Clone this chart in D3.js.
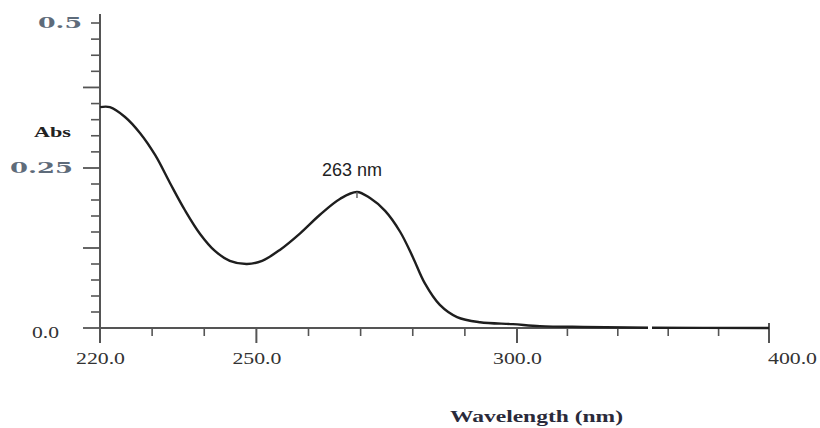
<!DOCTYPE html>
<html>
<head>
<meta charset="utf-8">
<script src="https://cdn.jsdelivr.net/npm/d3@7"></script>
<style>
  body { margin: 0; background: #fff; }
  svg { display: block; }
</style>
</head>
<body>
<svg id="chart" width="820" height="428"></svg>
<script>
// spectrum
const wavelength = [220, 221.9, 224.8, 227.7, 230.6, 233.4, 236.3, 239.2, 242.1, 244.9, 248.2, 251.1, 254.5, 258.4, 262.2, 266.1, 269.3, 271.8, 274.7, 277.6, 280.0, 282.3, 285.2, 288.5, 292.9, 299.2, 309.1, 326.2, 352.8, 400]
const absorbance = [0.355, 0.355, 0.338, 0.310, 0.272, 0.227, 0.184, 0.147, 0.120, 0.105, 0.100, 0.105, 0.122, 0.148, 0.177, 0.202, 0.2125, 0.203, 0.183, 0.150, 0.111, 0.070, 0.036, 0.017, 0.009, 0.006, 0.003, 0.0016, 0.0005, 0.0]

const xMajor = [220, 250, 300, 400]
const xMinor = [230, 240, 260, 270, 280, 290, 320, 340, 360, 380]
const xLabels = ["220.0", "250.0", "300.0", "400.0"]

const yLong = [0, 0.125, 0.25, 0.3889]
const yMinor = [0.025, 0.05, 0.075, 0.1, 0.15, 0.175, 0.2, 0.225,
  0.2778, 0.3056, 0.3333, 0.3611, 0.4167, 0.4444, 0.4722, 0.5]
const yLabels = [{v: 0.5, t: "0.5"}, {v: 0.25, t: "0.25"}, {v: 0, t: "0.0"}]

const peakNm = 269.3
const peakText = "263 nm"

const svg = d3.select('#chart')

// the axes of the scan are not linear, so piecewise scales
const x = d3.scaleLinear().domain([220, 300, 400]).range([100, 517, 769])
const y = d3.scaleLinear().domain([0, 0.25, 0.5]).range([328, 168, 23])

const axisCol = "#555"

// y axis line
svg.append('line')
  .attr('x1', 100).attr('x2', 100)
  .attr('y1', 14).attr('y2', 343)
  .attr('stroke', axisCol).attr('stroke-width', 2)

svg.append('g').selectAll('line')
  .data(yMinor).enter().append('line')
  .attr('x1', 91).attr('x2', 100)
  .attr('y1', d => y(d)).attr('y2', d => y(d))
  .attr('stroke', axisCol).attr('stroke-width', 1.6)

svg.append('g').selectAll('line')
  .data(yLong).enter().append('line')
  .attr('x1', 83).attr('x2', 100)
  .attr('y1', d => y(d)).attr('y2', d => y(d))
  .attr('stroke', axisCol).attr('stroke-width', 1.8)

// x axis line
svg.append('line')
  .attr('x1', 100).attr('x2', x(400))
  .attr('y1', y(0)).attr('y2', y(0))
  .attr('stroke', axisCol).attr('stroke-width', 2)

svg.append('g').selectAll('line')
  .data(xMinor).enter().append('line')
  .attr('x1', d => x(d)).attr('x2', d => x(d))
  .attr('y1', y(0)).attr('y2', y(0) + 8)
  .attr('stroke', axisCol).attr('stroke-width', 1.6)

svg.append('g').selectAll('line')
  .data(xMajor.slice(1)).enter().append('line')
  .attr('x1', d => x(d)).attr('x2', d => x(d))
  .attr('y1', d => d === 400 ? y(0) - 5 : y(0)).attr('y2', y(0) + 15)
  .attr('stroke', axisCol).attr('stroke-width', 2)

// curve
const line = d3.line()
  .x((d, i) => x(wavelength[i]))
  .y(d => y(d))
  .curve(d3.curveCatmullRom)

svg.append('path')
  .datum(absorbance)
  .attr('d', line)
  .attr('fill', 'none')
  .attr('stroke', '#1e1e1e')
  .attr('stroke-width', 2.4)

// little break in the baseline
svg.append('rect')
  .attr('x', 648).attr('y', y(0) - 4)
  .attr('width', 4).attr('height', 8)
  .attr('fill', '#fff')

// peak mark + label
let peakY = y(absorbance[wavelength.indexOf(peakNm)])
svg.append('line')
  .attr('x1', x(peakNm)).attr('x2', x(peakNm))
  .attr('y1', peakY).attr('y2', peakY + 6)
  .attr('stroke', '#666').attr('stroke-width', 1.5)

svg.append('text')
  .attr('x', 352).attr('y', 176)
  .attr('text-anchor', 'middle')
  .style('font-family', 'Liberation Sans, Arial, sans-serif')
  .style('font-size', '18px')
  .attr('fill', '#222')
  .text(peakText)

// x labels
svg.append('g').selectAll('text')
  .data(xMajor).enter().append('text')
  .attr('x', (d, i) => i === 3 ? x(d) - 1 : x(d) - 24)
  .attr('y', 364)
  .attr('textLength', 49)
  .attr('lengthAdjust', 'spacingAndGlyphs')
  .style('font-family', 'Liberation Serif, Times New Roman, serif')
  .style('font-size', '17px')
  .attr('fill', '#333')
  .text((d, i) => xLabels[i])

// y labels (the pasted ones are wide and blue-grey)
svg.append('g').selectAll('text')
  .data(yLabels).enter().append('text')
  .attr('x', d => d.v === 0 ? 32 : (d.t === "0.5" ? 38 : 10))
  .attr('y', d => d.v === 0 ? 338 : y(d.v) + 5)
  .attr('textLength', d => d.v === 0 ? 27 : (d.t === "0.5" ? 44 : 63))
  .attr('lengthAdjust', 'spacingAndGlyphs')
  .style('font-family', d => d.v === 0 ? 'Liberation Serif, serif' : 'DejaVu Serif, serif')
  .style('font-weight', d => d.v === 0 ? 'normal' : 'bold')
  .style('font-size', d => d.v === 0 ? '17px' : '15px')
  .attr('fill', d => d.v === 0 ? '#333' : '#5e6b7a')
  .text(d => d.t)

svg.append('text')
  .attr('x', 34).attr('y', 137)
  .attr('textLength', 37)
  .attr('lengthAdjust', 'spacingAndGlyphs')
  .style('font-family', 'Liberation Serif, serif')
  .style('font-weight', 'bold')
  .style('font-size', '15px')
  .attr('fill', '#222')
  .text('Abs')

svg.append('text')
  .attr('x', 450).attr('y', 422)
  .attr('textLength', 173)
  .attr('lengthAdjust', 'spacingAndGlyphs')
  .style('font-family', 'Liberation Serif, serif')
  .style('font-weight', 'bold')
  .style('font-size', '17px')
  .attr('fill', '#2a2a3a')
  .text('Wavelength (nm)')
</script>
</body>
</html>
